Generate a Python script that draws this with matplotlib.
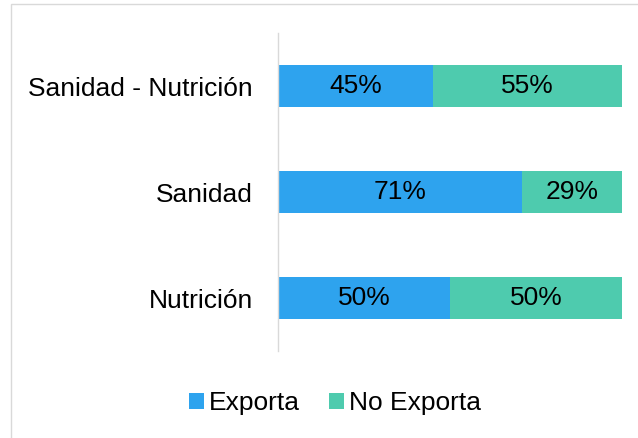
import matplotlib.pyplot as plt
from matplotlib.patches import Rectangle
import numpy as np

plt.rcParams['font.family'] = ['Liberation Sans', 'DejaVu Sans']

# Data
categories = ["Nutrición", "Sanidad", "Sanidad - Nutrición"]
exporta = [50, 71, 45]
no_exporta = [50, 29, 55]
labels = ["Exporta", "No Exporta"]
colors = ["#2EA3EE", "#4ECBAE"]

fs = 19

fig = plt.figure(figsize=(6.38, 4.38), dpi=100)
ax = fig.add_axes([278 / 638, 1 - 351 / 438, 344 / 638, 318 / 438])

# chart frame (left/top only visible)
fig.patches.append(Rectangle((10.5 / 638, -0.1), 1.2, 1.1 - 3.5 / 438,
                             transform=fig.transFigure, fill=False,
                             edgecolor="#D9D9D9", linewidth=1))

y = np.arange(len(categories))
exp = np.array(exporta) / 100
noexp = np.array(no_exporta) / 100

b1 = ax.barh(y, exp, height=0.4, color=colors[0], label=labels[0])
b2 = ax.barh(y, noexp, left=exp, height=0.4, color=colors[1], label=labels[1])

for bars, vals in [(b1, exporta), (b2, no_exporta)]:
    for bar, v in zip(bars, vals):
        ax.text(bar.get_x() + bar.get_width() / 2, bar.get_y() + bar.get_height() / 2,
                f"{v}%", ha="center", va="center", fontsize=fs, color="black")

ax.set_xlim(0, 1)
ax.set_ylim(-0.5, 2.5)
ax.set_yticks(y)
ax.set_yticklabels(categories, fontsize=fs)
ax.tick_params(axis="y", length=0, pad=18)
ax.set_xticks([])
for s in ["top", "right", "bottom"]:
    ax.spines[s].set_visible(False)
ax.spines["left"].set_color("#D9D9D9")
ax.spines["left"].set_linewidth(1)

fig.legend(handles=[b1, b2], labels=labels, loc="center", bbox_to_anchor=(335 / 638, 1 - 403 / 438),
           ncol=2, frameon=False, fontsize=fs, handlelength=0.55, handleheight=0.55,
           handletextpad=0.2, columnspacing=1.1)

fig.savefig("out.png", dpi=100)
